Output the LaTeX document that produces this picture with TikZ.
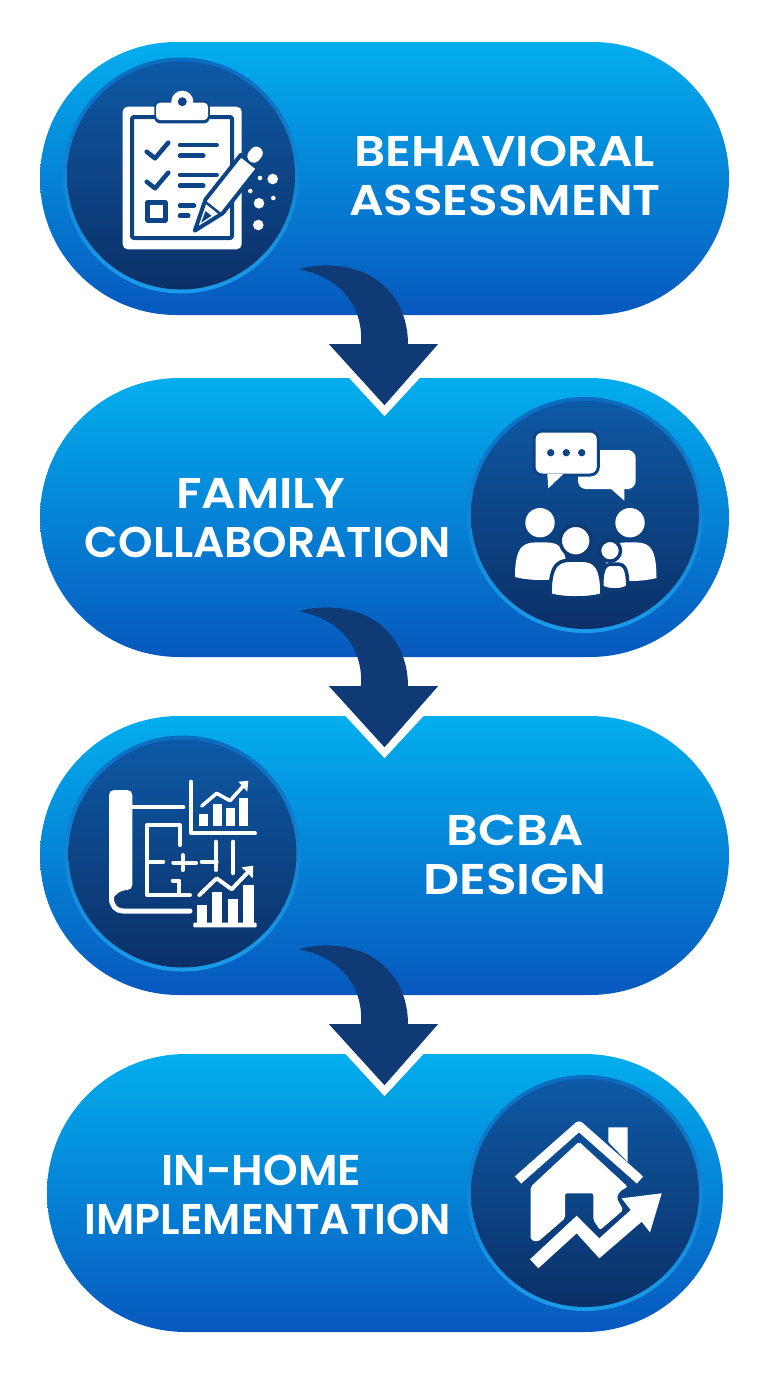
\documentclass[tikz,border=0pt]{standalone}
\usepackage{graphicx}
\usepackage{fontspec}
\setmainfont{Poppins}[BoldFont={Poppins SemiBold}]
\usetikzlibrary{positioning,calc}
\definecolor{pilltop}{HTML}{03AEEE}
\definecolor{pillmid}{HTML}{0A8ADC}
\definecolor{pillbot}{HTML}{0758BE}
\definecolor{disctop}{HTML}{0D59A5}
\definecolor{discbot}{HTML}{0C3068}
\definecolor{ringtop}{HTML}{0B6CC0}
\definecolor{ringbot}{HTML}{1A9CEB}
\definecolor{navy}{HTML}{0F3A75}
\definecolor{icondark}{HTML}{0D4485}
\definecolor{cutdark}{HTML}{0C3B76}
\newcommand{\fitline}[2]{\scalebox{#1}[1]{#2}}

\begin{document}
\begin{tikzpicture}
  [
  x=1pt, y=-1pt, line join=round,
  pill/.style={rectangle, inner sep=0pt, top color=pilltop, middle color=pillmid, bottom color=pillbot},
  ring/.style={circle, inner sep=0pt, minimum size=236pt, top color=ringtop, bottom color=ringbot},
  disc/.style={circle, inner sep=0pt, minimum size=228pt, top color=disctop, bottom color=discbot},
  steptext/.style={align=center, text=white, font=\fontsize{43}{49.5}\selectfont\bfseries},
  ink/.style={draw=white, line cap=round, line width=4pt},
  tick/.style={draw=icondark, line cap=round, line width=4.5pt},
  cut/.style={fill=white, draw=cutdark, line width=3.5pt}
  ]
\useasboundingbox (0,0) rectangle (768,1376);

% pills
\foreach \p/\px/\py/\pw/\ph in {1/384.5/178.5/689/273, 2/384.5/517.5/689/279, 3/384.5/855.5/689/279, 4/385/1193/676/278} {
  \node[pill, minimum width=\pw pt, minimum height=\ph pt, rounded corners=0.499*\ph pt] (pill\p) at (\px,\py) {};
}

% discs
\foreach \d/\dx/\dy in {1/181/175.5, 2/585/515, 3/182.5/853.5, 4/585/1193} {
  \node[ring] (ring\d) at (\dx,\dy) {};
  \node[disc] (disc\d) at (\dx,\dy) {};
}

% arrows between the pills
\foreach \a/\b in {1/2, 2/3, 3/4} {
  \begin{scope}[shift={(pill\a.south)}]
    \fill[white] (0,101) -- (-61,35) -- (61,35) -- cycle;
    \fill[navy] (-85.5,-46) .. controls (-65,-52) and (-40,-51) .. (-19.5,-42)
      .. controls (10.5,-28) and (23.5,0) .. (23.5,29)
      -- (53.5,29) -- (0,90) -- (-55.5,29) -- (-23.5,29)
      .. controls (-21.5,3) and (-32.5,-35) .. (-85.5,-46) -- cycle;
  \end{scope}
}

\node[steptext] (text1) at (505,176) {\fitline{1.127}{BEHAVIORAL}\\\fitline{1.128}{ASSESSMENT}};
\node[steptext] (text2) at (268,518) {\fitline{1.12}{FAMILY\hspace{13pt}}\\\fitline{1.02}{COLLABORATION}};
\node[steptext] (text3) at (515,855) {\fitline{1.15}{BCBA}\\\fitline{1.17}{DESIGN}};
\node[steptext] (text4) at (268,1195) {\fitline{1.025}{IN-HOME\hspace{13pt}}\\\fitline{0.99}{IMPLEMENTATION}};

% clipboard
\fill[white, rounded corners=5pt] (122.7,106.7) rectangle (241.7,249.3);
\draw[icondark, line width=4pt, rounded corners=2pt] (132,117) rectangle (232,238);
\fill[cut, draw=icondark, rounded corners=4pt] (156,102.7) rectangle (208,121.7);
\fill[white] (182.3,101.7) circle (11);
\fill[white, rounded corners=4pt] (156,102.7) rectangle (208,120);
\fill[icondark] (182.3,101.7) circle (4.5);
\foreach \cy in {0,30} {
  \draw[tick] (146.7,151.7+\cy) -- (155,158.3+\cy) -- (168.3,142.7+\cy);
  \draw[tick] (180,145+\cy) -- (216.7,145+\cy);
  \draw[tick] (180,155.7+\cy) -- (203.3,155.7+\cy);
}
\draw[tick] (180,205.7) -- (194,205.7);
\draw[tick] (180,215.7) -- (188.3,215.7);
\draw[tick, line width=5pt] (147.7,202.3) rectangle (165,220);
\begin{scope}[shift={(196.7,228.3)}, rotate=51.6]
  \fill[white, draw=icondark, line width=4pt] (-3,0) -- (28,11) -- (85,11) -- (85,-11) -- (28,-11) -- cycle;
  \fill[icondark] (7,0) -- (19,3.8) -- (19,-3.8) -- cycle;
  \draw[icondark, line width=2.5pt] (26,9) -- (26,-9);
  \draw[white, line width=13pt, line cap=round] (92,0) -- (96,0);
\end{scope}
\foreach \sx/\sy/\sr in {272.7/179/5.3, 260/178/2.3, 250.3/191/2.3, 259/203.3/5.3, 273.3/198/2.3, 258.3/225/5.3} {
  \fill[white] (\sx,\sy) circle (\sr);
}

% speech bubbles and family
\fill[white, rounded corners=8pt] (578,450) -- (635.7,450) -- (635.7,489) -- (624.3,489) -- (578,489) -- cycle;
\fill[white] (610,488) -- (624.3,500.7) -- (624.3,488) -- cycle;
\fill[white, draw=icondark, line width=3pt, rounded corners=8pt] (534,431) rectangle (598.3,475);
\fill[white] (547.3,474) -- (548.3,488.3) -- (563.3,474) -- cycle;
\foreach \sx in {550.7,566.3,581.7} {
  \fill[icondark] (\sx,452.7) circle (3.7);
}
\foreach \cx/\ct/\w/\bt in {541/542.3/26/580, 631/542.3/25.5/581} {
  \fill[white] (\cx-\w,\bt-3) .. controls (\cx-\w,\ct) and (\cx-.6*\w,\ct) .. (\cx,\ct)
    .. controls (\cx+.6*\w,\ct) and (\cx+\w,\ct) .. (\cx+\w,\bt-3)
    .. controls (\cx+.4*\w,\bt+1) and (\cx-.4*\w,\bt+1) .. (\cx-\w,\bt-3) -- cycle;
}
\fill[white] (540,522.7) circle (14.7);
\fill[white] (630,522.7) circle (14.7);
\foreach \cx/\ct/\w/\bt in {614.7/564/13/590, 576/560/26/598} {
  \fill[cut] (\cx-\w,\bt-3) .. controls (\cx-\w,\ct) and (\cx-.6*\w,\ct) .. (\cx,\ct)
    .. controls (\cx+.6*\w,\ct) and (\cx+\w,\ct) .. (\cx+\w,\bt-3)
    .. controls (\cx+.4*\w,\bt+1) and (\cx-.4*\w,\bt+1) .. (\cx-\w,\bt-3) -- cycle;
}
\fill[cut] (610,550.7) circle (10.5);
\fill[cut] (575.7,540.7) circle (15.5);

% floor plan and charts
\fill[white, rounded corners=5pt] (109,905) -- (109,790) -- (132.3,790) -- (132.3,890) -- (122,890) -- (114,896) -- cycle;
\draw[ink, line width=5pt] (111.5,898) .. controls (111.5,906) and (116,911) .. (123,911) -- (190,911);
\draw[ink] (132.3,807.3) -- (183.3,807.3);
\draw[ink] (180,845) -- (180,825) -- (147.3,825) -- (147.3,895) -- (190,895);
\draw[ink] (147.3,861.7) -- (163.3,861.7);
\draw[ink] (173.3,862.7) -- (196,862.7);
\draw[ink] (182.7,855) -- (182.7,870);
\draw[ink] (201.7,861.7) -- (216.7,861.7);
\draw[ink] (216,841.7) -- (216,870);
\draw[ink] (233.3,841.7) -- (233.3,873.3);
\draw[ink] (172.7,880.7) -- (179.3,880.7) -- (179.3,893);
\draw[ink] (191,781.7) -- (191,833.3) -- (255,833.3);
\foreach \bl/\bt/\br in {199.3/814/208.3, 212.7/804.3/221.7, 226/808.3/235, 239/798.3/248.3} {
  \fill[white] (\bl,\bt) rectangle (\br,826);
}
\draw[ink, line width=3.5pt] (201.7,806) -- (216.7,793.3) -- (230,800.7) -- (246,783);
\fill[white] (238.3,781.7) -- (248.3,780.7) -- (247.3,791.7) -- cycle;
\fill[white, rounded corners=1pt] (193.3,922.7) rectangle (256.7,927.3);
\foreach \bl/\bt/\br in {196.7/905/206.7, 211.7/891.7/222.3, 227.7/899/238.3, 242.7/885/254} {
  \fill[white] (\bl,\bt) rectangle (\br,923);
}
\draw[cutdark, line width=8pt, line cap=round] (199.3,895) -- (216.7,878.3) -- (231.7,889.3) -- (250,870);
\draw[ink] (199.3,895) -- (216.7,878.3) -- (231.7,889.3) -- (250,870);
\fill[white] (241.7,867.3) -- (253.3,865.7) -- (252.7,878.3) -- cycle;

% house and rising arrow
\fill[white] (608.3,1127.3) -- (627.7,1127.3) -- (627.7,1162) -- (608.3,1142) -- cycle;
\draw[white, line width=9.5pt] (518,1180) -- (579,1126) -- (640,1180);
\fill[white, rounded corners=2pt] (579,1141.7) -- (627.7,1186.7) -- (619.3,1191.7) -- (616.7,1198.3) -- (623.3,1210)
  -- (600,1230) -- (593.3,1220) -- (593.3,1193.3) -- (565,1193.3) -- (565,1218.3) -- (538,1241.7)
  -- (530.7,1240) -- (530.7,1186.7) -- cycle;
\fill[white] (530,1259.3) -- (538.3,1268.3) -- (576.7,1233.3) -- (599.3,1258.3) -- (641.7,1221.7) -- (650,1232.3)
  -- (661.7,1193.3) -- (621.7,1198.3) -- (630.7,1210) -- (599.3,1238.3) -- (576.7,1215.7) -- cycle;

\end{tikzpicture}
\end{document}
